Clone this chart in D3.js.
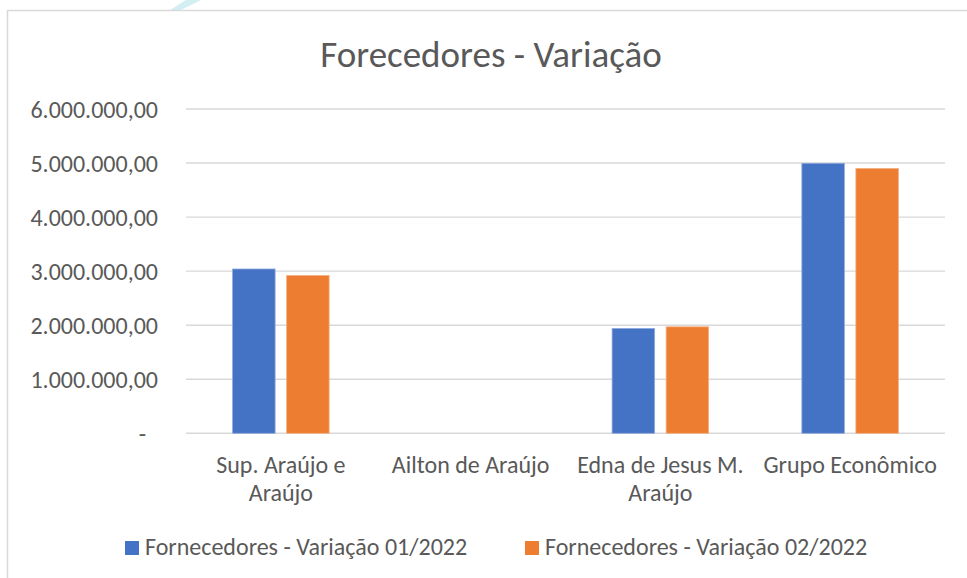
<!DOCTYPE html>
<html>
<head>
<meta charset="utf-8">
<script src="https://cdn.jsdelivr.net/npm/d3@7"></script>
<style>
  body { margin: 0; background: #fff; }
  text { font-family: Calibri, Carlito, Lato, sans-serif; fill: #595959; }
</style>
</head>
<body>
<div id="chart"></div>
<script>
const categories = ['Sup. Araújo e Araújo', 'Ailton de Araújo', 'Edna de Jesus M. Araújo', 'Grupo Econômico'];
const seriesNames = ['Fornecedores - Variação 01/2022', 'Fornecedores - Variação 02/2022'];
const values0122 = [3040000, 0, 1940000, 4995000];
const values0222 = [2920000, 0, 1970000, 4900000];
const yTicks = [0, 1000000, 2000000, 3000000, 4000000, 5000000, 6000000];
const colors = ['#4472c4', '#ed7d31'];

const W = 967, H = 578;
const MARGIN = { TOP: 109, BOTTOM: 145, LEFT: 186, RIGHT: 22 };

const rows = categories.map((c, i) => ({ cat: c, vals: [values0122[i], values0222[i]] }));

const svg = d3.select('#chart').append('svg')
  .attr('width', W)
  .attr('height', H);

// faint mark from the page behind the chart
svg.append('path')
  .attr('d', 'M170,10 L181,10 L201,0 L186,0 Z')
  .attr('fill', '#d3eff3');

// chart border (runs off the right and bottom of the picture)
svg.append('rect')
  .attr('x', 7.5)
  .attr('y', 10.5)
  .attr('width', 1100)
  .attr('height', 1000)
  .attr('fill', 'none')
  .attr('stroke', '#d9d9d9')
  .attr('stroke-width', 1.5);

const y = d3.scaleLinear()
  .domain([0, 6000000])
  .range([H - MARGIN.BOTTOM + 0.3, MARGIN.TOP]);

const x = d3.scaleBand()
  .domain(categories)
  .range([MARGIN.LEFT, W - MARGIN.RIGHT])
  .padding(0);

const xs = d3.scaleBand()
  .domain([0, 1])
  .range([0, x.bandwidth()])
  .paddingInner(0.213)
  .paddingOuter(0.863);

const br = d3.formatLocale({ decimal: ',', thousands: '.', grouping: [3], currency: ['R$', ''] });
const fmt = br.format(',.2f');

// grid lines
svg.append('g')
  .selectAll('line')
  .data(yTicks)
  .join('line')
  .attr('x1', MARGIN.LEFT)
  .attr('x2', W - MARGIN.RIGHT)
  .attr('y1', d => y(d))
  .attr('y2', d => y(d))
  .attr('stroke', '#d9d9d9')
  .attr('stroke-width', 1.4);

// y axis labels
const yAxis = d3.axisLeft(y)
  .tickValues(yTicks)
  .tickSize(0)
  .tickPadding(0)
  .tickFormat(d => d === 0 ? '-' : fmt(d));

svg.append('g')
  .attr('transform', 'translate(158,0)')
  .call(yAxis)
  .call(g => g.select('.domain').remove())
  .call(g => g.selectAll('text')
    .attr('font-size', 24)
    .attr('font-family', null)
    .attr('fill', '#595959')
    .attr('dy', '0.34em'))
  .call(g => g.selectAll('.tick').filter(d => d === 0).select('text').attr('dx', -12));

// bars
svg.append('g')
  .selectAll('g')
  .data(rows)
  .join('g')
  .attr('transform', d => `translate(${x(d.cat)},0)`)
  .selectAll('rect')
  .data(d => d.vals.map((v, i) => ({ v, i })))
  .join('rect')
  .attr('x', d => xs(d.i))
  .attr('width', xs.bandwidth())
  .attr('y', d => y(d.v))
  .attr('height', d => y(0) - y(d.v))
  .attr('fill', d => colors[d.i])
  .attr('stroke', d => d.i === 0 ? '#8faadc' : '#f4b183')
  .attr('stroke-width', 0.8)
  .attr('display', d => d.v > 0 ? null : 'none');

// category labels, wrapped to the band width
const xAxis = d3.axisBottom(x).tickSize(0).tickPadding(0);
svg.append('g')
  .attr('transform', `translate(0,${y(0)})`)
  .call(xAxis)
  .call(g => g.select('.domain').remove())
  .call(g => g.selectAll('text')
    .attr('font-size', 24)
    .attr('font-family', null)
    .attr('fill', '#595959')
    .attr('y', 40)
    .attr('dy', 0)
    .call(wrap, x.bandwidth() - 4));

function wrap(texts, width) {
  texts.each(function () {
    const text = d3.select(this);
    const words = text.text().split(/\s+/);
    const yy = text.attr('y');
    text.text(null);
    let line = [];
    let lineNo = 0;
    let tspan = text.append('tspan').attr('x', 0).attr('y', yy);
    words.forEach(w => {
      line.push(w);
      tspan.text(line.join(' '));
      if (tspan.node().getComputedTextLength() > width && line.length > 1) {
        line.pop();
        tspan.text(line.join(' '));
        line = [w];
        lineNo++;
        tspan = text.append('tspan').attr('x', 0).attr('y', +yy + lineNo * 28).text(w);
      }
    });
  });
}

// title
svg.append('text')
  .attr('x', 491)
  .attr('y', 67)
  .attr('text-anchor', 'middle')
  .attr('font-size', 37)
  .attr('font-weight', 300)
  .text('Forecedores - Variação');

// legend
const legendX = [125, 525];
const legend = svg.append('g')
  .selectAll('g')
  .data(seriesNames)
  .join('g')
  .attr('transform', (d, i) => `translate(${legendX[i]},541)`);

legend.append('rect')
  .attr('width', 14)
  .attr('height', 14)
  .attr('fill', (d, i) => colors[i]);

legend.append('text')
  .attr('x', 20)
  .attr('y', 14)
  .attr('font-size', 24)
  .text(d => d);
</script>
</body>
</html>
